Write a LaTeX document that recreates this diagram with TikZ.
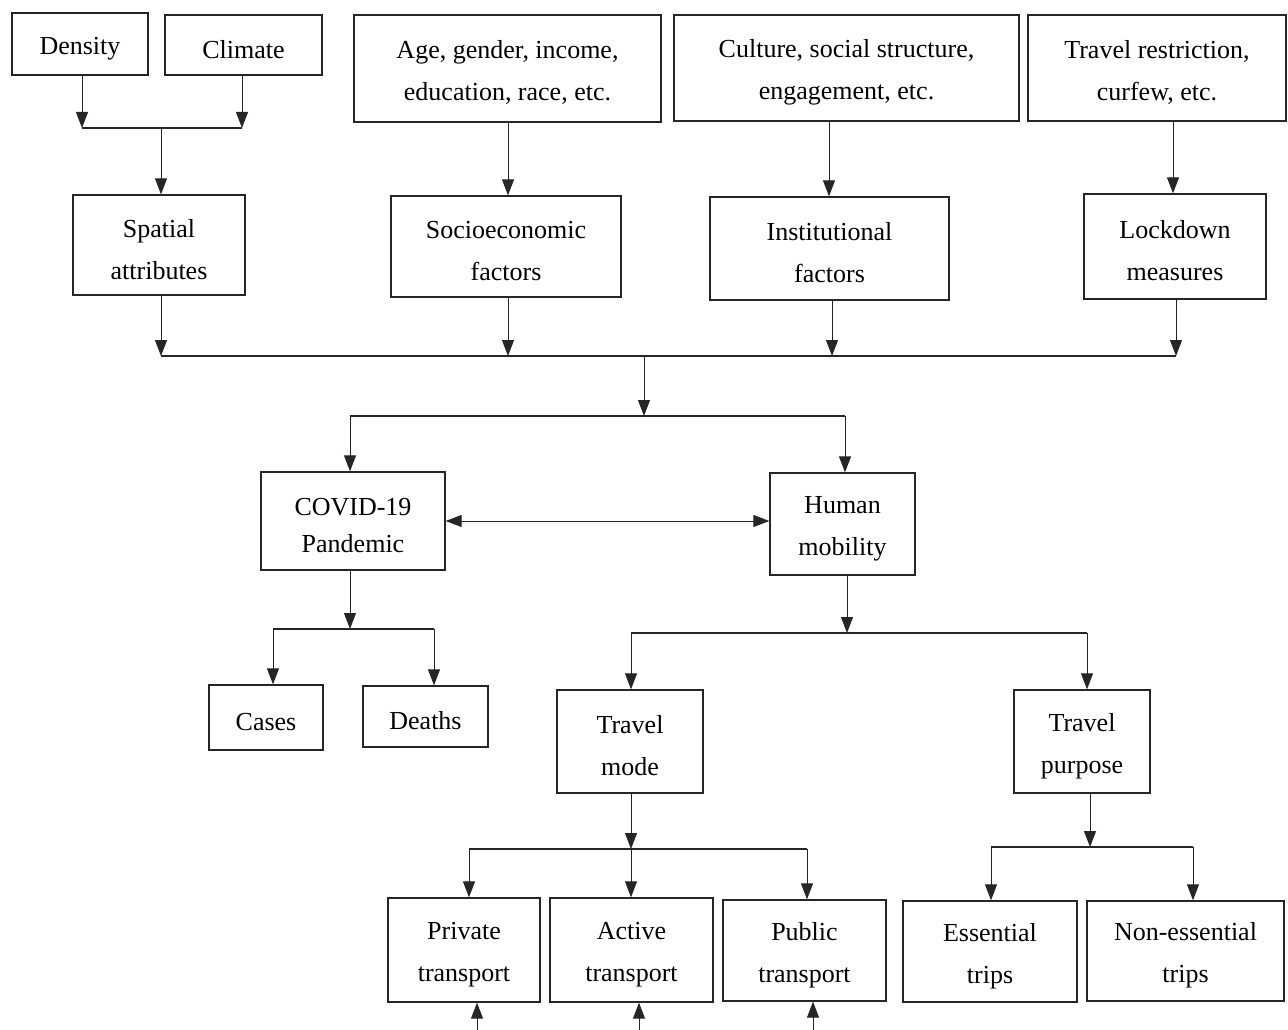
\documentclass[tikz,border=0pt]{standalone}
\usepackage{fontspec}
\setmainfont{Liberation Serif}
\usetikzlibrary{arrows.meta}
\newcommand{\tstrut}{\rule{0pt}{27pt}}
\begin{document}
\begin{tikzpicture}[x=1pt,y=-1pt,
  box/.style={draw=black!85,line width=1.3pt,rectangle,inner sep=0pt,align=center,
    font=\fontsize{26pt}{42pt}\selectfont},
  arr/.style={draw=black!85,line width=1pt,-{Triangle[length=16pt,width=12pt]}},
  dbl/.style={draw=black!85,line width=1pt,{Triangle[length=16pt,width=12pt]}-{Triangle[length=16pt,width=12pt]}},
  ln/.style={draw=black!85,line width=1.3pt}]
\useasboundingbox (0,0) rectangle (1288,1030);
% top row
\node[box,minimum width=136pt,minimum height=62pt] (density) at (80,44) {\tstrut Density};
\node[box,minimum width=157pt,minimum height=60pt] (climate) at (243.5,45) {\tstrut Climate};
\node[box,minimum width=307pt,minimum height=107pt] (age) at (507.5,68.5) {\tstrut Age, gender, income,\\education, race, etc.};
\node[box,minimum width=345pt,minimum height=106pt] (culture) at (846.5,68) {\tstrut Culture, social structure,\\engagement, etc.};
\node[box,minimum width=258pt,minimum height=106pt] (travelr) at (1157,68) {\tstrut Travel restriction,\\curfew, etc.};
% second row
\node[box,minimum width=172pt,minimum height=100pt] (spatial) at (159,245) {\tstrut Spatial\\attributes};
\node[box,minimum width=230pt,minimum height=101pt] (socio) at (506,246.5) {\tstrut Socioeconomic\\factors};
\node[box,minimum width=239pt,minimum height=103pt] (inst) at (829.5,248.5) {\tstrut Institutional\\factors};
\node[box,minimum width=182pt,minimum height=105pt] (lock) at (1175,246.5) {\tstrut Lockdown\\measures};
% third row
\node[box,minimum width=184pt,minimum height=98pt,font=\fontsize{26pt}{37pt}\selectfont] (covid) at (353,521) {\tstrut COVID-19\\Pandemic};
\node[box,minimum width=145pt,minimum height=102pt] (human) at (842.5,524) {\tstrut Human\\mobility};
% fourth row
\node[box,minimum width=114pt,minimum height=65pt] (cases) at (266,717.5) {\tstrut Cases};
\node[box,minimum width=125pt,minimum height=61pt] (deaths) at (425.5,716.5) {\tstrut Deaths};
\node[box,minimum width=146pt,minimum height=103pt] (mode) at (630,741.5) {\tstrut Travel\\mode};
\node[box,minimum width=136pt,minimum height=103pt] (purpose) at (1082,741.5) {\tstrut Travel\\purpose};
% bottom row
\node[box,minimum width=152pt,minimum height=104pt] (private) at (464,950) {\tstrut Private\\transport};
\node[box,minimum width=163pt,minimum height=104pt] (active) at (631.5,950) {\tstrut Active\\transport};
\node[box,minimum width=163pt,minimum height=101pt] (public) at (804.5,950.5) {\tstrut Public\\transport};
\node[box,minimum width=174pt,minimum height=101pt] (essential) at (990,951.5) {\tstrut Essential\\trips};
\node[box,minimum width=197pt,minimum height=100pt] (nonessential) at (1185.5,951) {\tstrut Non-essential\\trips};

% density/climate -> spatial
\coordinate (b1) at (161,128);
\coordinate (b1l) at (82,128);
\coordinate (b1r) at (242,128);
\draw[arr] (b1l |- density.south) -- (b1l);
\draw[arr] (b1r |- climate.south) -- (b1r);
\draw[ln] (b1l) -- (b1r);
\draw[arr] (b1) -- (b1 |- spatial.north);
% upper boxes -> factors
\coordinate (c1) at (508,0);
\coordinate (c2) at (829,0);
\coordinate (c3) at (1173,0);
\draw[arr] (c1 |- age.south) -- (c1 |- socio.north);
\draw[arr] (c2 |- culture.south) -- (c2 |- inst.north);
\draw[arr] (c3 |- travelr.south) -- (c3 |- lock.north);
% factors -> bus
\coordinate (b2) at (644,356);
\coordinate (b2a) at (161,356);
\coordinate (b2b) at (508,356);
\coordinate (b2c) at (832,356);
\coordinate (b2d) at (1176,356);
\draw[arr] (b2a |- spatial.south) -- (b2a);
\draw[arr] (b2b |- socio.south) -- (b2b);
\draw[arr] (b2c |- inst.south) -- (b2c);
\draw[arr] (b2d |- lock.south) -- (b2d);
\draw[ln] (b2a) -- (b2d);
% bus -> covid / human
\coordinate (b3) at (644,416);
\coordinate (b3l) at (350,416);
\coordinate (b3r) at (845,416);
\draw[arr] (b2) -- (b3);
\draw[ln] (b3l) -- (b3r);
\draw[arr] (b3l) -- (b3l |- covid.north);
\draw[arr] (b3r) -- (b3r |- human.north);
% covid <-> human
\draw[dbl] (covid.east) -- (covid.east -| human.west);
% covid -> cases/deaths
\coordinate (b4) at (350,629);
\coordinate (b4l) at (273,629);
\coordinate (b4r) at (434,629);
\draw[arr] (b4 |- covid.south) -- (b4);
\draw[ln] (b4l) -- (b4r);
\draw[arr] (b4l) -- (b4l |- cases.north);
\draw[arr] (b4r) -- (b4r |- deaths.north);
% human -> mode/purpose
\coordinate (b5) at (847,633);
\coordinate (b5l) at (631,633);
\coordinate (b5r) at (1087,633);
\draw[arr] (b5 |- human.south) -- (b5);
\draw[ln] (b5l) -- (b5r);
\draw[arr] (b5l) -- (b5l |- mode.north);
\draw[arr] (b5r) -- (b5r |- purpose.north);
% mode -> transports
\coordinate (b6) at (631,849);
\coordinate (b6l) at (469,849);
\coordinate (b6r) at (807,849);
\draw[arr] (b6 |- mode.south) -- (b6);
\draw[ln] (b6l) -- (b6r);
\draw[arr] (b6l) -- (b6l |- private.north);
\draw[arr] (b6) -- (b6 |- active.north);
\draw[arr] (b6r) -- (b6r |- public.north);
% purpose -> trips
\coordinate (b7) at (1090,847);
\coordinate (b7l) at (991,847);
\coordinate (b7r) at (1193,847);
\draw[arr] (b7 |- purpose.south) -- (b7);
\draw[ln] (b7l) -- (b7r);
\draw[arr] (b7l) -- (b7l |- essential.north);
\draw[arr] (b7r) -- (b7r |- nonessential.north);
% upward arrows from bottom edge
\coordinate (u1) at (477,1030);
\coordinate (u2) at (639,1030);
\coordinate (u3) at (813,1030);
\draw[arr] (u1) -- (u1 |- private.south);
\draw[arr] (u2) -- (u2 |- active.south);
\draw[arr] (u3) -- (u3 |- public.south);
\end{tikzpicture}
\end{document}
